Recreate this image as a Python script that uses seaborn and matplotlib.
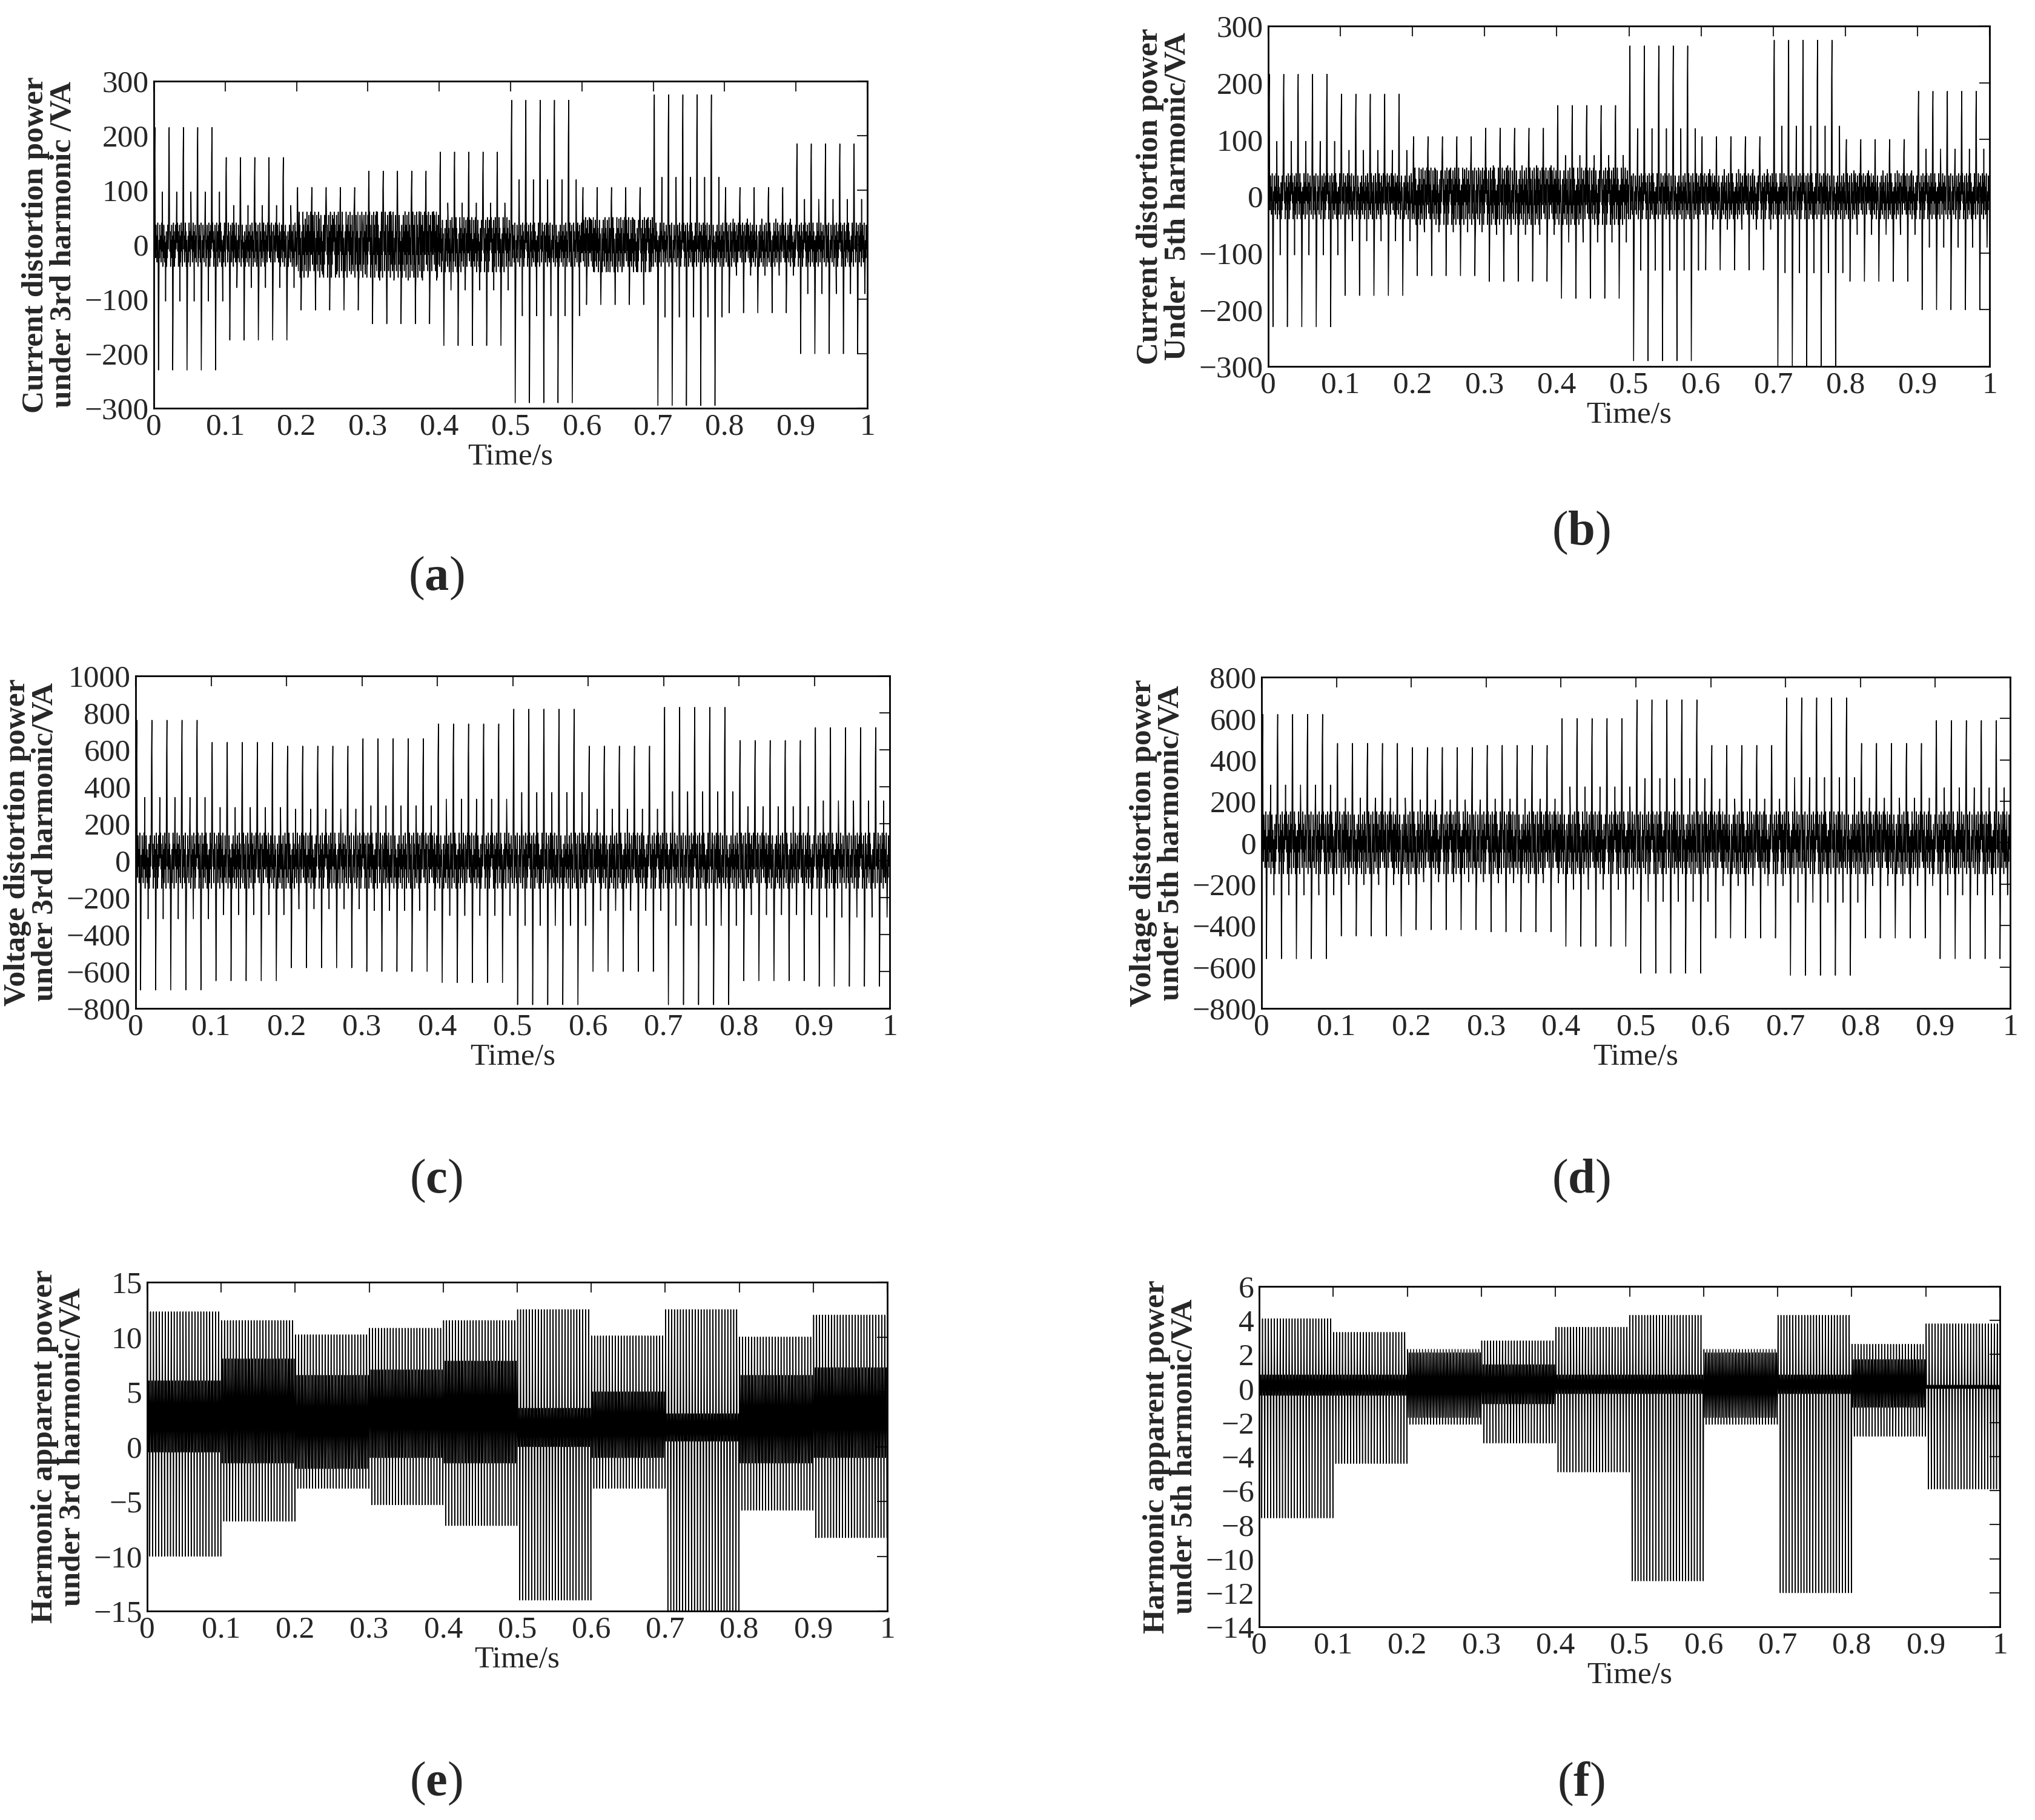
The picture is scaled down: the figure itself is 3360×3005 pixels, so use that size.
import numpy as np
import matplotlib
matplotlib.use("Agg")
import matplotlib.pyplot as plt
import seaborn as sns

sns.set_style("white")
plt.rcParams['font.family'] = ['Liberation Serif', 'DejaVu Serif']
plt.rcParams['mathtext.fontset'] = 'custom'
plt.rcParams['mathtext.rm'] = 'Liberation Serif'
plt.rcParams['mathtext.bf'] = 'Liberation Serif:bold'

# Per 0.1 s segment envelopes
seg_starts = [0.0, 0.1, 0.2, 0.3, 0.4, 0.5, 0.6, 0.7, 0.8, 0.9]
a_hi = [215, 160, 105, 135, 170, 265, 105, 275, 105, 185]
a_lo = [-230, -175, -120, -145, -185, -290, -110, -295, -125, -200]
a_core = [40, 40, 60, 60, 50, 40, 50, 40, 40, 40]
b_hi = [215, 180, 105, 120, 160, 265, 105, 275, 100, 185]
b_lo = [-230, -175, -140, -150, -180, -290, -130, -300, -150, -200]
b_core = [40, 40, 50, 50, 50, 40, 40, 40, 40, 40]
c_hi = [760, 640, 620, 660, 740, 820, 620, 830, 650, 720]
c_lo = [-700, -650, -580, -600, -660, -780, -600, -780, -650, -680]
c_core = [150, 150, 150, 150, 150, 150, 150, 150, 150, 150]
d_hi = [620, 480, 460, 470, 600, 690, 470, 700, 480, 590]
d_lo = [-560, -450, -420, -430, -500, -630, -460, -640, -460, -560]
d_core = [150, 150, 150, 150, 150, 150, 150, 150, 150, 150]
e_hi = [12.3, 11.5, 10.2, 10.8, 11.5, 12.5, 10.1, 12.5, 10.0, 12.0]
e_lo = [-10.0, -6.8, -3.8, -5.3, -7.2, -14.0, -3.8, -15.0, -5.8, -8.3]
e_chi = [6.0, 8.0, 6.5, 7.0, 7.8, 3.5, 5.0, 3.0, 6.5, 7.2]
e_clo = [-0.5, -1.5, -2.0, -1.0, -1.5, 0.0, -1.0, 0.5, -1.5, -1.0]
f_hi = [4.1, 3.3, 2.3, 2.8, 3.6, 4.3, 2.3, 4.3, 2.6, 3.8]
f_lo = [-7.6, -4.4, -2.1, -3.2, -4.9, -11.3, -2.1, -12.0, -2.8, -5.9]
f_chi = [0.8, 0.8, 2.1, 1.4, 0.8, 0.8, 2.1, 0.8, 1.7, 0.2]
f_clo = [-0.4, -0.4, -1.7, -0.9, -0.3, -0.3, -1.7, -0.3, -1.1, 0.0]
core_shape = [1.0, -0.3, 0.6, -1.0, 0.2, -0.6, 0.9, -0.2, 0.4, -0.8, 0.1]

t = np.arange(0, 1.0, 0.0005)
seg = np.minimum((t * 10).astype(int), 9)
k = np.round(t / 0.0005).astype(int)

def spiky(hi, lo, core):
    hi, lo, core = map(np.array, (hi, lo, core))
    shape = np.array(core_shape)[k % len(core_shape)]
    y = core[seg] * shape
    p = k % 40
    y = np.where(p == 3, hi[seg], y)
    y = np.where(p == 2, 0.75 * hi[seg], y)
    y = np.where(p == 13, lo[seg], y)
    y = np.where(p == 14, 0.55 * lo[seg], y)
    y = np.where(p == 24, 0.45 * hi[seg], y)
    y = np.where(p == 33, 0.45 * lo[seg], y)
    return y

def dense(hi, lo, chi, clo):
    hi, lo, chi, clo = map(np.array, (hi, lo, chi, clo))
    patt = k % 8
    y = np.select([patt == 1, patt == 3, patt == 5, patt == 7],
                  [hi[seg], clo[seg], chi[seg], lo[seg]], default=(chi[seg] + clo[seg]) / 2)
    return y

W, H = 3360, 3005
fig = plt.figure(figsize=(W / 100, H / 100), dpi=100)

panels = [
    ((254, 134, 1432, 674), spiky(a_hi, a_lo, a_core), (-300, 300), np.arange(-300, 301, 100),
     "Current distortion power\nunder 3rd harmonic /VA", "a", (720, 955)),
    ((2094, 43, 3285, 605), spiky(b_hi, b_lo, b_core), (-300, 300), np.arange(-300, 301, 100),
     "Current distortion power\nUnder  5th harmonic/VA", "b", (2610, 880)),
    ((224, 1116, 1469, 1665), spiky(c_hi, c_lo, c_core), (-800, 1000), np.arange(-800, 1001, 200),
     "Voltage distortion power\nunder 3rd harmonic/VA", "c", (720, 1950)),
    ((2083, 1118, 3319, 1665), spiky(d_hi, d_lo, d_core), (-800, 800), np.arange(-800, 801, 200),
     "Voltage distortion power\nunder 5th harmonic/VA", "d", (2610, 1950)),
    ((243, 2117, 1465, 2660), dense(e_hi, e_lo, e_chi, e_clo), (-15, 15), np.arange(-15, 16, 5),
     "Harmonic apparent power\nunder 3rd harmonic/VA", "e", (720, 2945)),
    ((2079, 2124, 3302, 2686), dense(f_hi, f_lo, f_chi, f_clo), (-14, 6), np.arange(-14, 7, 2),
     "Harmonic apparent power\nunder 5th harmonic/VA", "f", (2610, 2945)),
]

xt = np.arange(0, 1.01, 0.1)
xtl = ["0", "0.1", "0.2", "0.3", "0.4", "0.5", "0.6", "0.7", "0.8", "0.9", "1"]
for (l, tp, r, b), y, ylim, yt, ylab, lab, (lx, ly) in panels:
    ax = fig.add_axes([l / W, 1 - b / H, (r - l) / W, (b - tp) / H])
    sns.lineplot(x=t, y=y, ax=ax, color='k', linewidth=1.1, estimator=None)
    ax.set_xlim(0, 1)
    ax.set_ylim(*ylim)
    ax.set_xticks(xt)
    ax.set_xticklabels(xtl)
    ax.set_yticks(yt)
    ax.tick_params(direction='in', top=True, right=True, length=12, width=1.5,
                   labelsize=37, pad=6)
    for s in ax.spines.values():
        s.set_linewidth(2)
        s.set_color('k')
    ax.set_xlabel("Time/s", fontsize=37, labelpad=2)
    ax.set_ylabel(ylab, fontsize=37, fontweight='bold', linespacing=1.0, labelpad=8)
    fig.text(lx / W, 1 - ly / H, r"($\mathbf{%s}$)" % lab, fontsize=58, ha='center', va='center')

fig.savefig("out.png", dpi=100)
